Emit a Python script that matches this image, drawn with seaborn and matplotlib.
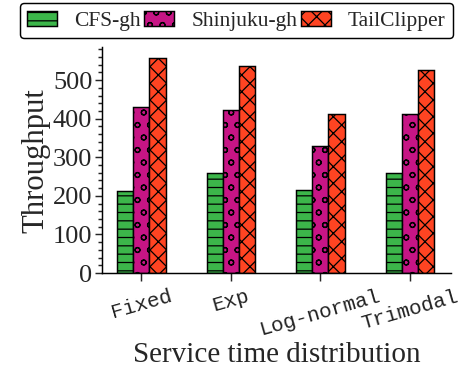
import matplotlib
matplotlib.use("Agg")
import matplotlib.pyplot as plt
import seaborn as sns
import pandas as pd
from matplotlib.ticker import MultipleLocator

categories = ["Fixed", "Exp", "Log-normal", "Trimodal"]
series = ["CFS-gh", "Shinjuku-gh", "TailClipper"]
cfs_gh = [212, 258, 214, 258]
shinjuku_gh = [431, 422, 328, 413]
tailclipper = [556, 537, 413, 527]

colors = ["#3cb64a", "#c71585", "#ff4422"]
hatches = ["---", "oo", "xxx"]

rows = []
for name, vals in zip(series, [cfs_gh, shinjuku_gh, tailclipper]):
    for c, v in zip(categories, vals):
        rows.append({"dist": c, "system": name, "tput": v})
df = pd.DataFrame(rows)

DPI = 150
sns.set_style("ticks")
plt.rcParams["font.family"] = ["Liberation Serif", "DejaVu Serif"]
plt.rcParams["hatch.linewidth"] = 0.6
plt.rcParams["hatch.color"] = "black"

fig = plt.figure(figsize=(464 / DPI, 371 / DPI), dpi=DPI)
ax = fig.add_axes([0.22, 0.264, 0.752, 0.6085])

sns.barplot(data=df, x="dist", y="tput", hue="system", order=categories,
            hue_order=series, palette=colors, width=0.54, gap=0,
            edgecolor="black", linewidth=0.7, saturation=1, ax=ax, legend=False)

for cont, h in zip(ax.containers, hatches):
    for p in cont:
        p.set_hatch(h)
        p.set_edgecolor("black")

ax.set_xlim(-0.44, 3.46)
ax.set_ylim(0, 585)
ax.yaxis.set_major_locator(MultipleLocator(100))
ax.yaxis.set_minor_locator(MultipleLocator(20))
ax.tick_params(axis="y", which="major", length=3.4, width=0.7, labelsize=12.7, pad=1.3)
ax.tick_params(axis="y", which="minor", length=2, width=0.7)
ax.tick_params(axis="x", which="major", length=4, width=0.7, pad=2.5)
sns.despine(ax=ax)
for s in ["left", "bottom"]:
    ax.spines[s].set_linewidth(0.7)
    ax.spines[s].set_color("black")

ax.set_xticks(range(len(categories)))
ax.set_xticklabels(categories, rotation=16, ha="center", va="top",
                   family=["Liberation Mono", "DejaVu Sans Mono"], fontsize=10,
                   color="#222222")
ax.set_xlabel("Service time distribution", fontsize=14, labelpad=1.5)
ax.set_ylabel("Throughput", fontsize=14.7, labelpad=1.3)

leg = fig.legend(ax.containers, series, loc="upper center",
                 bbox_to_anchor=(236.5 / 464, 1 - 3 / 371), ncol=3,
                 fontsize=10.3, handlelength=1.4, handleheight=0.7,
                 handletextpad=0.8, columnspacing=0.15, borderpad=0.35,
                 borderaxespad=0,
                 frameon=True, fancybox=True, edgecolor="black", framealpha=1)
leg.get_frame().set_linewidth(0.7)

fig.savefig("out.png", dpi=DPI)
